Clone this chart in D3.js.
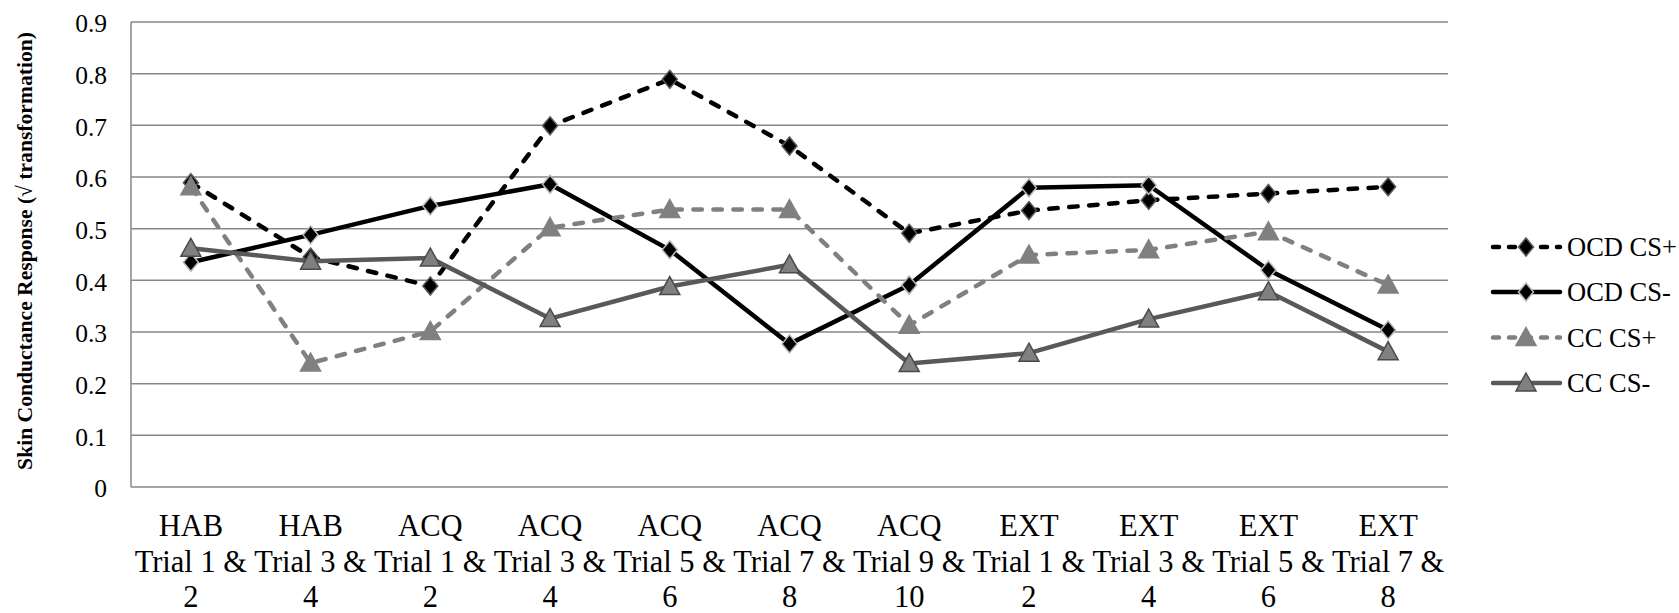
<!DOCTYPE html>
<html>
<head>
<meta charset="utf-8">
<script src="https://cdn.jsdelivr.net/npm/d3@7"></script>
<style>
  html, body { margin: 0; padding: 0; background: #fff; }
  svg { display: block; }
  svg text { font-family: "Liberation Serif", "Times New Roman", serif !important; fill: #000; }
</style>
</head>
<body>
<svg id="chart" width="1679" height="613"></svg>
<script>
// ---- data ----
const categories = [
  ["HAB", "Trial 1 &", "2"],
  ["HAB", "Trial 3 &", "4"],
  ["ACQ", "Trial 1 &", "2"],
  ["ACQ", "Trial 3 &", "4"],
  ["ACQ", "Trial 5 &", "6"],
  ["ACQ", "Trial 7 &", "8"],
  ["ACQ", "Trial 9 &", "10"],
  ["EXT", "Trial 1 &", "2"],
  ["EXT", "Trial 3 &", "4"],
  ["EXT", "Trial 5 &", "6"],
  ["EXT", "Trial 7 &", "8"]
];
const ocdCSplus  = [0.589, 0.445, 0.389, 0.699, 0.789, 0.660, 0.491, 0.535, 0.555, 0.568, 0.581];
const ocdCSminus = [0.435, 0.488, 0.544, 0.586, 0.459, 0.277, 0.391, 0.579, 0.584, 0.420, 0.304];
const ccCSplus   = [0.581, 0.240, 0.301, 0.502, 0.537, 0.537, 0.313, 0.449, 0.459, 0.494, 0.391];
const ccCSminus  = [0.462, 0.437, 0.443, 0.326, 0.388, 0.430, 0.239, 0.259, 0.325, 0.378, 0.262];
const seriesNames = ["OCD CS+", "OCD CS-", "CC CS+", "CC CS-"];
const yTicks = [0, 0.1, 0.2, 0.3, 0.4, 0.5, 0.6, 0.7, 0.8, 0.9];
const yTitle = "Skin Conductance Response (\u221A transformation)";

// ---- styles ----
const FONT = "'Liberation Serif', 'Times New Roman', serif";
const styles = [
  { values: ocdCSplus,  color: "#000000", dash: "8.5,11.5", marker: "diamond", fill: "#000000", stroke: "#5a5a5a" },
  { values: ocdCSminus, color: "#000000", dash: null,       marker: "diamond", fill: "#000000", stroke: "#b8b8b8" },
  { values: ccCSplus,   color: "#808080", dash: "8.5,11.5", marker: "triangle", fill: "#808080", stroke: "#808080" },
  { values: ccCSminus,  color: "#595959", dash: null,       marker: "triangle", fill: "#808080", stroke: "#4a4a4a" }
];

const svg = d3.select("#chart");
const plotL = 131, plotR = 1448, plotT = 22, plotB = 487;

const x = d3.scalePoint().domain(d3.range(categories.length)).range([plotL, plotR]).padding(0.5);
const y = d3.scaleLinear().domain([0, 0.9]).range([plotB, plotT]);

// gridlines
svg.append("g").selectAll("line").data(yTicks).join("line")
  .attr("x1", plotL).attr("x2", plotR)
  .attr("y1", d => y(d)).attr("y2", d => y(d))
  .attr("stroke", "#878787").attr("stroke-width", 1.5);

// left axis line
svg.append("line").attr("x1", plotL).attr("x2", plotL).attr("y1", y(0.9)).attr("y2", y(0))
  .attr("stroke", "#878787").attr("stroke-width", 1.5);

// y tick labels
const yAxis = d3.axisLeft(y).tickValues(yTicks).tickSize(0).tickPadding(24)
  .tickFormat(d => d === 0 ? "0" : d3.format(".1f")(d));
const yg = svg.append("g").attr("transform", `translate(${plotL},0)`).call(yAxis);
yg.select(".domain").remove();
yg.attr("font-family", null).attr("font-size", null);
yg.selectAll("text").style("font-family", FONT).style("font-size", "25.5px").attr("fill", "#000").attr("dy", "0.38em");

// x labels
const xg = svg.append("g");
categories.forEach((lines, i) => {
  const t = xg.append("text").attr("text-anchor", "middle")
    .style("font-family", FONT).style("font-size", "30.5px")
    .attr("x", x(i)).attr("y", 536);
  lines.forEach((ln, j) => {
    t.append("tspan").attr("x", x(i)).attr("dy", j === 0 ? 0 : 35.5).text(ln);
  });
});

// y title
svg.append("text")
  .attr("transform", `translate(32,251) rotate(-90)`)
  .attr("text-anchor", "middle")
  .style("font-family", FONT).style("font-size", "21.6px").style("font-weight", "bold")
  .text(yTitle);

// markers
function markerPath(type) {
  if (type === "diamond") return "M0,-9 L7.5,0 L0,9 L-7.5,0 Z";
  return "M0,-10 L10,8 L-10,8 Z";
}

const line = d3.line().x((d, i) => x(i)).y(d => y(d));

styles.forEach(s => {
  const g = svg.append("g");
  g.append("path").datum(s.values)
    .attr("d", line)
    .attr("fill", "none")
    .attr("stroke", s.color)
    .attr("stroke-width", 4.5)
    .attr("stroke-linejoin", "round")
    .attr("stroke-linecap", "round")
    .attr("stroke-dasharray", s.dash);
  g.selectAll("path.m").data(s.values).join("path").attr("class", "m")
    .attr("d", markerPath(s.marker))
    .attr("transform", (d, i) => `translate(${x(i)},${y(d)})`)
    .attr("fill", s.fill).attr("stroke", s.stroke).attr("stroke-width", 1.5);
});

// legend
const legY = [247, 292, 337.5, 383];
const lg = svg.append("g");
styles.forEach((s, k) => {
  const row = lg.append("g").attr("transform", `translate(0,${legY[k]})`);
  row.append("line").attr("x1", 1493).attr("x2", 1560).attr("y1", 0).attr("y2", 0)
    .attr("stroke", s.color).attr("stroke-width", 4.5).attr("stroke-linecap", "round")
    .attr("stroke-dasharray", s.dash ? "6,10" : null);
  row.append("path").attr("d", markerPath(s.marker))
    .attr("transform", "translate(1526,0)")
    .attr("fill", s.fill).attr("stroke", s.stroke).attr("stroke-width", 1.5);
  row.append("text").attr("x", 1567).attr("y", 0).attr("dy", "0.35em")
    .style("font-family", FONT).style("font-size", "26.5px").text(seriesNames[k]);
});
</script>
</body>
</html>
